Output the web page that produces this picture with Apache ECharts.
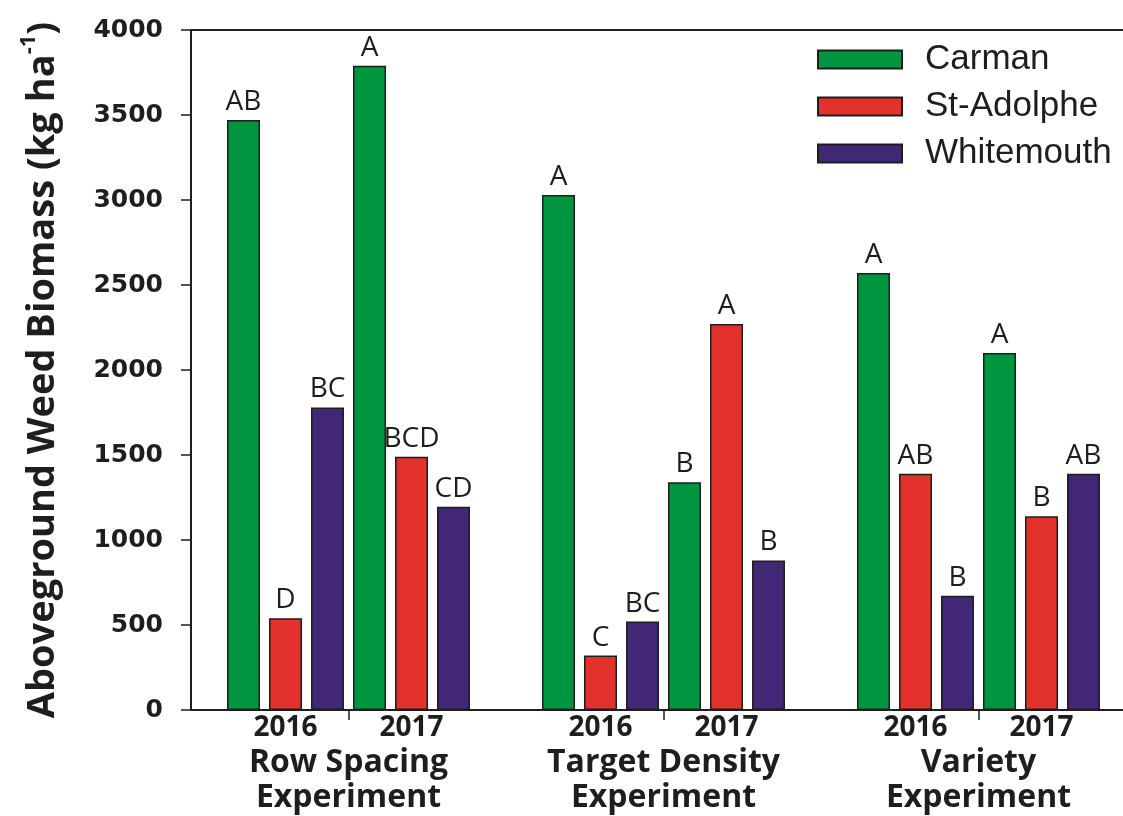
<!DOCTYPE html>
<html>
<head>
<meta charset="utf-8">
<script src="https://cdn.jsdelivr.net/npm/echarts@6/dist/echarts.min.js"></script>
<style>html,body{margin:0;padding:0;background:#fff;}#chart{width:1123px;height:816px;}</style>
</head>
<body>
<div id="chart"></div>
<script>
// ---- data ----
var experiments = ['Row Spacing\nExperiment', 'Target Density\nExperiment', 'Variety\nExperiment'];
var years = ['2016', '2017'];
var sites = ['Carman', 'St-Adolphe', 'Whitemouth'];
// values ordered: RS2016, RS2017, TD2016, TD2017, V2016, V2017
var carman     = [3470, 3790, 3030, 1340, 2570, 2100];
var stAdolphe  = [540, 1490, 320, 2270, 1390, 1140];
var whitemouth = [1780, 1195, 520, 880, 672, 1390];
var carmanLetters     = ['AB', 'A', 'A', 'B', 'A', 'A'];
var stAdolpheLetters  = ['D', 'BCD', 'C', 'A', 'AB', 'B'];
var whitemouthLetters = ['BC', 'CD', 'BC', 'B', 'B', 'AB'];
var yTicks = [0, 500, 1000, 1500, 2000, 2500, 3000, 3500, 4000];

// ---- layout on a fine category axis (one slot = half a bar pitch) ----
var NSLOT = 45, LEAD = 2, EXP_STEP = 15, YEAR_STEP = 6, SITE_STEP = 2;
var slots = [];
for (var i = 0; i < NSLOT; i++) slots.push(String(i));
function slotOf(g, s) {
  var e = Math.floor(g / 2), y = g % 2;
  return LEAD + e * EXP_STEP + y * YEAR_STEP + s * SITE_STEP;
}
var yearLabelAt = {}, expLabelAt = {}, sepAt = {};
for (var g = 0; g < 6; g++) {
  yearLabelAt[slotOf(g, 1)] = years[g % 2];
}
for (var e = 0; e < 3; e++) {
  var mid = LEAD + e * EXP_STEP + 5;
  expLabelAt[mid] = experiments[e];
  sepAt[mid] = true;
}
var colors = ['#00963f', '#e3312b', '#412776'];
var allVals = [carman, stAdolphe, whitemouth];
var allLetters = [carmanLetters, stAdolpheLetters, whitemouthLetters];

var series = sites.map(function (name, s) {
  var d = [];
  for (var i = 0; i < NSLOT; i++) d.push(null);
  for (var g = 0; g < 6; g++) {
    d[slotOf(g, s)] = { value: allVals[s][g], letter: allLetters[s][g] };
  }
  return {
    name: name, type: 'bar', data: d, barWidth: 33, barGap: '-100%',
    itemStyle: { color: colors[s], borderColor: '#1e1e1e', borderWidth: 1.5 },
    label: {
      show: true, position: 'top', distance: 4,
      fontFamily: 'Open Sans', fontSize: 28, color: '#1e1e1e',
      formatter: function (p) { return p.data ? p.data.letter : ''; }
    }
  };
});

var chart = echarts.init(document.getElementById('chart'));
chart.setOption({
  animation: false,
  backgroundColor: '#fff',
  grid: { left: 191, top: 30, width: NSLOT * 21, bottom: 106, show: true, borderColor: '#1e1e1e', borderWidth: 2,
          outerBoundsMode: 'none', containLabel: false },
  legend: {
    data: sites, orient: 'vertical', left: 812, top: 37,
    itemWidth: 84, itemHeight: 18, itemGap: 12, icon: 'rect',
    textStyle: { fontFamily: 'Liberation Sans', fontSize: 35, lineHeight: 34, color: '#1e1e1e', padding: [0, 0, 0, 18] }
  },
  xAxis: [{
    type: 'category', data: slots, position: 'bottom',
    axisLine: { lineStyle: { color: '#1e1e1e', width: 2 } },
    axisTick: { show: true, alignWithLabel: true, length: 10, lineStyle: { color: '#1e1e1e', width: 1.5 },
      interval: function (i) { return !!sepAt[i]; } },
    axisLabel: {
      interval: function (i) { return yearLabelAt[i] !== undefined; },
      formatter: function (v, i) { return yearLabelAt[i] || ''; },
      margin: 4, fontFamily: 'Open Sans', fontWeight: 'bold', fontSize: 28, color: '#1e1e1e'
    }
  }, {
    type: 'category', data: slots, position: 'bottom',
    axisLine: { show: false }, axisTick: { show: false },
    axisLabel: {
      interval: function (i) { return expLabelAt[i] !== undefined; },
      formatter: function (v, i) { return expLabelAt[i] || ''; },
      margin: 35, lineHeight: 35, fontFamily: 'Open Sans', fontWeight: 'bold', fontSize: 32, color: '#1e1e1e'
    }
  }],
  yAxis: {
    type: 'value', min: yTicks[0], max: yTicks[yTicks.length - 1], interval: 500,
    splitLine: { show: false },
    axisLine: { show: true, lineStyle: { color: '#1e1e1e', width: 2 } },
    axisTick: { show: true, length: 10, lineStyle: { color: '#1e1e1e', width: 1.5 } },
    axisLabel: { margin: 28, fontFamily: 'DejaVu Sans', fontWeight: 'bold', fontSize: 25, color: '#1e1e1e',
      formatter: function (v) { return String(v); } },
    name: '{a|Aboveground Weed Biomass (kg ha}{s|-1}{a|)}',
    nameLocation: 'middle', nameGap: 129,
    nameTextStyle: {
      rich: {
        a: { fontFamily: 'Open Sans', fontWeight: 'bold', fontSize: 38, color: '#1e1e1e', verticalAlign: 'bottom', lineHeight: 44 },
        s: { fontFamily: 'Open Sans', fontWeight: 'bold', fontSize: 22, color: '#1e1e1e', verticalAlign: 'top', lineHeight: 44 }
      }
    }
  },
  series: series
});
</script>
</body>
</html>
